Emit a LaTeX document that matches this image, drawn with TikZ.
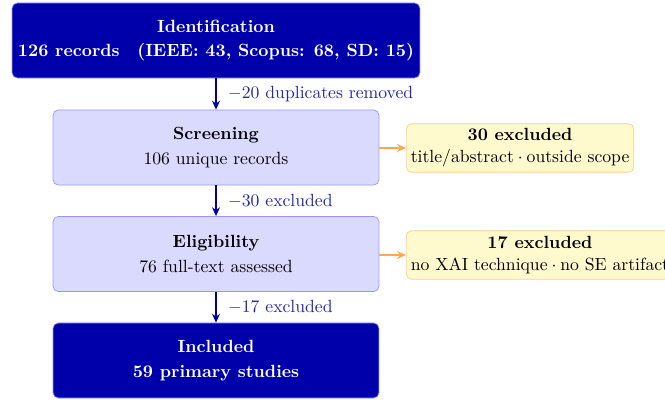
\documentclass[tikz,border=0pt]{standalone}
\usetikzlibrary{arrows.meta}
\definecolor{deepblue}{RGB}{0,0,170}
\definecolor{labelblue}{RGB}{35,35,180}
\definecolor{stagefill}{RGB}{218,218,255}
\definecolor{stageline}{RGB}{150,150,255}
\definecolor{exclfill}{RGB}{255,249,206}
\definecolor{exclline}{RGB}{255,205,140}
\definecolor{exclarrow}{RGB}{255,168,80}
\tikzset{
  darkbox/.style={draw=stageline, fill=deepblue, text=white, rounded corners=3pt,
    align=center, font=\bfseries, inner sep=0pt},
  stagebox/.style={draw=stageline, fill=stagefill, rounded corners=3pt,
    align=center, inner sep=0pt, minimum width=184.6pt, minimum height=42.5pt},
  exclbox/.style={draw=exclline, fill=exclfill, rounded corners=3pt,
    align=center, inner sep=2.5pt, minimum height=27.5pt},
  flow/.style={draw=deepblue, line width=1.1pt, -{Stealth[length=5pt,width=4.5pt]}},
  sidearrow/.style={draw=exclarrow, line width=1.1pt, -{Stealth[length=5pt,width=4.5pt]}},
  flowlabel/.style={text=labelblue, anchor=west, xshift=3pt}
}
\begin{document}
\begin{tikzpicture}[x=0.5663pt, y=-0.5663pt]
\useasboundingbox (0,0) rectangle (665,400);
\clip (0,0) rectangle (665,400);

% main flow stages
\node[darkbox, minimum width=231pt, minimum height=42.5pt] (ident) at (216,40.5)
  {Identification\\[2pt] 126 records\quad(IEEE: 43, Scopus: 68, SD: 15)};
\node[stagebox] (screen) at (216,147.5) {\textbf{Screening}\\[2pt] 106 unique records};
\node[stagebox] (elig) at (216,254) {\textbf{Eligibility}\\[2pt] 76 full-text assessed};
\node[darkbox, minimum width=184.6pt, minimum height=42.5pt] (incl) at (216,360.5)
  {Included\\[2pt] 59 primary studies};

% exclusion notes
\node[exclbox, anchor=west] (ex1) at (406,148)
  {\textbf{30 excluded}\\[0.5pt] title/abstract${}\cdot{}$outside scope};
\node[exclbox, anchor=west] (ex2) at (406,255)
  {\textbf{17 excluded}\\[0.5pt] no XAI technique${}\cdot{}$no SE artifact};

\draw[flow] (ident.south) -- node[flowlabel] {$-$20 duplicates removed} (screen.north);
\draw[flow] (screen.south) -- node[flowlabel] {$-$30 excluded} (elig.north);
\draw[flow] (elig.south) -- node[flowlabel] {$-$17 excluded} (incl.north);

\draw[sidearrow] (screen.east |- ex1.west) -- (ex1.west);
\draw[sidearrow] (elig.east |- ex2.west) -- (ex2.west);
\end{tikzpicture}
\end{document}
